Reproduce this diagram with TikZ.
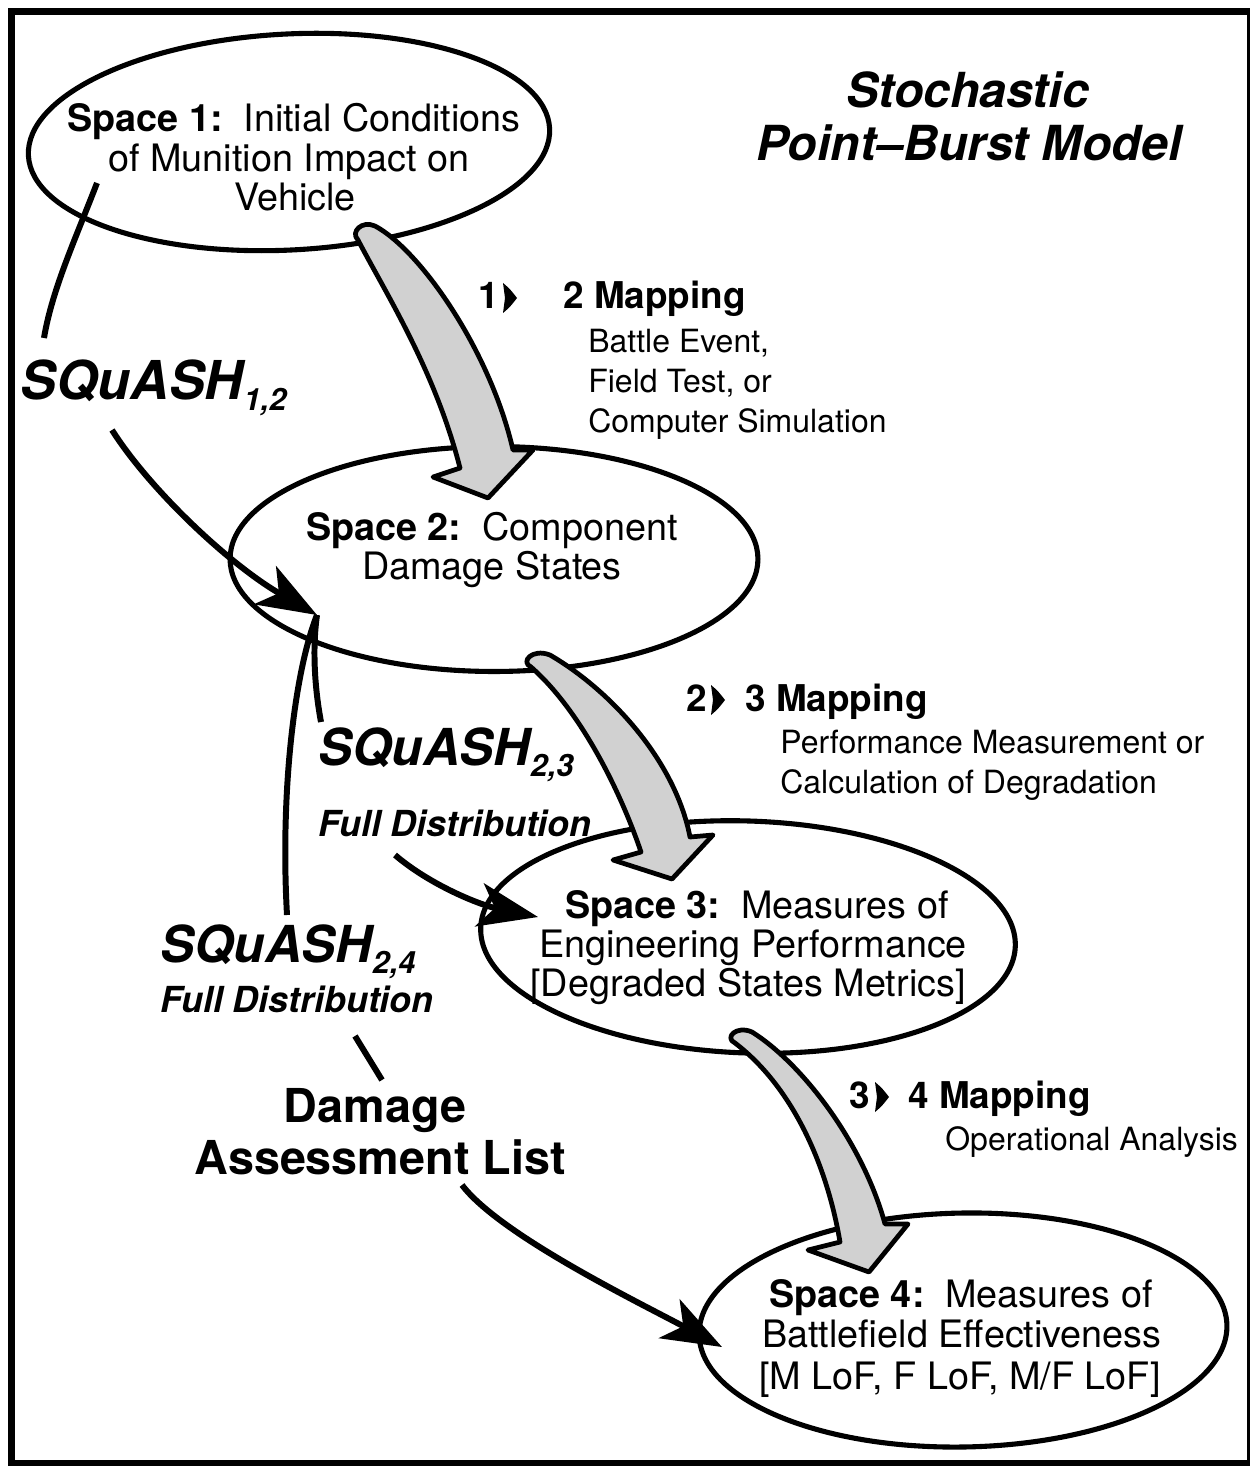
\documentclass[tikz,border=0pt]{standalone}
\usepackage{fontspec}
\setmainfont{TeX Gyre Heros}
\usetikzlibrary{arrows.meta,shapes.geometric}
\newcommand\fsEll{\fontsize{21.5pt}{25pt}\selectfont}
\newcommand\fsMap{\fontsize{21pt}{25pt}\selectfont\bfseries}
\newcommand\fsSub{\fontsize{18.2pt}{22pt}\selectfont}
\newcommand\fsSqA{\fontsize{30.5pt}{34pt}\selectfont\bfseries\itshape}
\newcommand\fsSq{\fontsize{29pt}{32pt}\selectfont\bfseries\itshape}
\newcommand\fsSqSub{\fontsize{17.5pt}{20pt}\selectfont\bfseries\itshape}
\newcommand\fsFull{\fontsize{20.4pt}{24pt}\selectfont\bfseries\itshape}
\newcommand\fsDam{\fontsize{26.6pt}{30pt}\selectfont\bfseries}
\newcommand\fsTitle{\fontsize{27.5pt}{30pt}\selectfont\bfseries\itshape}
\newcommand\sqsub[1]{\raisebox{-6.5pt}{\fsSqSub #1}}
\begin{document}
\begin{tikzpicture}[x=0.02cm,y=-0.02cm,
  tx/.style={inner sep=0pt,anchor=base},
  txl/.style={inner sep=0pt,anchor=base west},
  ell/.style={draw,line width=2.9pt,ellipse,inner sep=0pt},
  link/.style={line width=3.4pt},
  tipped/.style={link,-{Stealth[length=34pt,width=25pt,inset=9pt]}},
  blk/.style={draw,line width=2.7pt,fill=black!18,line join=round},
  arw/.pic={\fill (0,0) .. controls (7,6) .. (14,15) .. controls (7,24) .. (0,30) -- (2,15) -- cycle;}]
\useasboundingbox (0,0) rectangle (1249,1466);
% frame
\draw[line width=4pt] (11.5,11.5) rectangle (1250,1463);

% thin SQuASH connectors
\coordinate (q12a) at (97,183);
\coordinate (q12b) at (44,338);
\coordinate (q12c) at (112,430);
\coordinate (t12) at (317,615);
\draw[link] (q12a) .. controls (75,240) and (52,290) .. (q12b);
\draw[tipped] (q12c) .. controls (150,490) and (230,565) .. (t12);

\coordinate (q23a) at (321,722);
\coordinate (q23b) at (395,855);
\coordinate (t23) at (538,917);
\draw[link] (t12) .. controls (312,650) and (315,690) .. (q23a);
\draw[tipped] (q23b) .. controls (430,885) and (480,905) .. (t23);

\coordinate (q24a) at (287,915);
\coordinate (q24b) at (355,1036);
\coordinate (q24c) at (382,1080);
\coordinate (q24d) at (462,1185);
\coordinate (t24) at (722,1347);
\draw[link] (t12) .. controls (295,670) and (280,790) .. (q24a);
\draw[link] (q24b) -- (q24c);
\draw[tipped] (q24d) .. controls (500,1235) and (640,1303) .. (t24);

% ellipses
\node[ell,minimum width=10.44cm,minimum height=4.32cm,rotate=3] (s1) at (289,142) {};
\node[ell,minimum width=10.56cm,minimum height=4.5cm] (s2) at (494,559) {};
\node[ell,minimum width=10.7cm,minimum height=4.64cm,rotate=-2] (s3) at (748,937) {};
\node[ell,minimum width=10.56cm,minimum height=4.68cm,rotate=1] (s4) at (963,1330) {};

% block arrows
\filldraw[blk] (375,226) .. controls (420,250) and (490,350) .. (513,450)
  -- (533,450) -- (488,498) -- (433,477) -- (460,468)
  .. controls (435,370) and (385,292) .. (358,240)
  .. controls (350,232) and (362,220) .. (375,226) -- cycle;
\filldraw[blk] (550,655) .. controls (610,690) and (675,760) .. (690,837)
  -- (713,835) -- (672,879) -- (613,860) -- (641,852)
  .. controls (620,790) and (580,710) .. (531,667)
  .. controls (520,662) and (532,648) .. (550,655) -- cycle;
\filldraw[blk] (752,1032) .. controls (800,1062) and (862,1140) .. (885,1224)
  -- (908,1224) -- (869,1272) -- (808,1250) -- (840,1242)
  .. controls (826,1160) and (790,1085) .. (735,1043)
  .. controls (724,1038) and (736,1025) .. (752,1032) -- cycle;

% ellipse texts
\node[tx] (s1a) at (294,132) {\fsEll\textbf{Space 1:}\hspace{0.55em}Initial Conditions};
\node[tx] (s1b) at (289,172) {\fsEll of Munition Impact on};
\node[tx] (s1c) at (295,211) {\fsEll Vehicle};
\node[tx] (s2a) at (492,540) {\fsEll\textbf{Space 2:}\hspace{0.55em}Component};
\node[tx] (s2b) at (492,579) {\fsEll Damage States};
\node[tx] (s3a) at (757,918) {\fsEll\textbf{Space 3:}\hspace{0.55em}Measures of};
\node[tx] (s3b) at (753,957) {\fsEll Engineering Performance};
\node[tx] (s3c) at (748,996) {\fsEll [Degraded States Metrics]};
\node[tx] (s4a) at (961,1307) {\fsEll\textbf{Space 4:}\hspace{0.55em}Measures of};
\node[tx] (s4b) at (962,1347) {\fsEll Battlefield Effectiveness};
\node[tx] (s4c) at (960,1389) {\fsEll [M LoF, F LoF, M/F LoF]};

% mapping labels
\node[txl] (m1a) at (478,309) {\fsMap 1};
\pic at (503,283) {arw};
\node[txl] (m1b) at (563,309) {\fsMap 2 Mapping};
\node[txl] (m1c) at (588,352) {\fsSub Battle Event,};
\node[txl] (m1d) at (588,392) {\fsSub Field Test, or};
\node[txl] (m1e) at (588,432) {\fsSub Computer Simulation};

\node[txl] (m2a) at (686,711) {\fsMap 2};
\pic at (711,685) {arw};
\node[txl] (m2b) at (745,711) {\fsMap 3 Mapping};
\node[txl] (m2c) at (780,753) {\fsSub Performance Measurement or};
\node[txl] (m2d) at (780,793) {\fsSub Calculation of Degradation};

\node[txl] (m3a) at (849,1108) {\fsMap 3};
\pic at (875,1082) {arw};
\node[txl] (m3b) at (908,1108) {\fsMap 4 Mapping};
\node[txl] (m3c) at (945,1150) {\fsSub Operational Analysis};

% SQuASH labels
\node[txl] (sq12) at (20,399) {\fsSqA SQuASH\sqsub{1,2}};
\node[txl] (sq23) at (318,765) {\fsSq SQuASH\sqsub{2,3}};
\node[txl] (fd23) at (318,836) {\fsFull Full Distribution};
\node[txl] (sq24) at (160,962) {\fsSq SQuASH\sqsub{2,4}};
\node[txl] (fd24) at (160,1012) {\fsFull Full Distribution};
\node[tx] (dam1) at (375,1122) {\fsDam Damage};
\node[tx] (dam2) at (380,1174) {\fsDam Assessment List};

% title
\node[tx] (ti1) at (968,108) {\fsTitle Stochastic};
\node[tx] (ti2) at (969,161) {\fsTitle Point--Burst Model};
\end{tikzpicture}
\end{document}
